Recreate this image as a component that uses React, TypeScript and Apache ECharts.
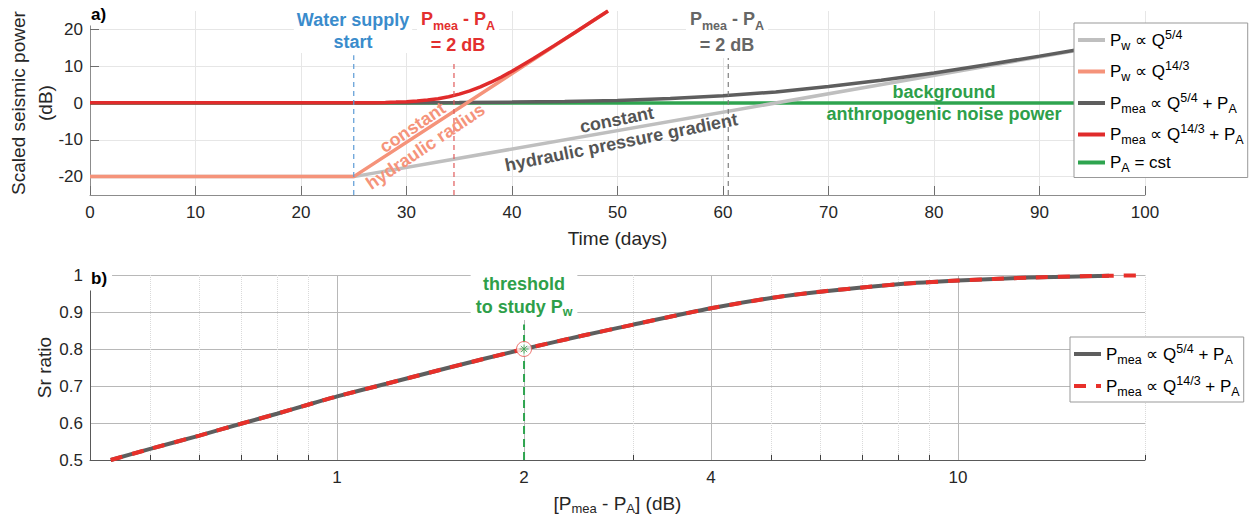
import React, { useEffect, useRef } from 'react';
import * as echarts from 'echarts';

const FONT = '"Liberation Sans", Arial, Helvetica, sans-serif';

// ---------- Panel a) data ----------
const yTicksA = [-20, -10, 0, 10, 20];
const pw54Days = [0, 25, 100];
const pw54Db = [-20, -20, 17.5];
const pw143Days = [0, 25, 49.1];
const pw143Db = [-20, -20, 25];
const pmea54Days = [0, 25, 30, 35, 40, 45, 50, 55, 60, 65, 70, 75, 80, 85, 90, 95, 100];
const pmea54Db = [0.04, 0.04, 0.08, 0.14, 0.24, 0.41, 0.71, 1.19, 1.94, 3.01, 4.46, 6.19, 8.14, 10.41, 12.74, 15.13, 17.58];
const pmea143Days = [0, 25, 26, 27, 28, 29, 30, 31, 32, 33, 34, 35, 36, 37, 38, 39, 40, 42, 44, 46, 48, 49.1];
const pmea143Db = [0.04, 0.04, 0.07, 0.1, 0.16, 0.24, 0.36, 0.54, 0.8, 1.18, 1.7, 2.4, 3.28, 4.38, 5.65, 7.08, 8.64, 12.01, 15.59, 19.25, 22.95, 25];
const paDays = [0, 100];
const paDb = [0, 0];
const markerDays = [25, 34.5, 60.5];
const markerTopsDb = [13, 11.2, 12.5];

// ---------- Panel b) data ----------
const dbDiff = [0.432, 0.5, 0.6, 0.7, 0.8, 0.9, 1, 1.2, 1.5, 2, 2.5, 3, 4, 5, 6, 8, 10, 13, 17.5];
const srRatio = [0.5, 0.53, 0.566, 0.598, 0.625, 0.65, 0.672, 0.706, 0.748, 0.8, 0.837, 0.866, 0.91, 0.938, 0.955, 0.975, 0.985, 0.993, 0.998];
const dbDiffRed = [...dbDiff, 20];
const srRatioRed = [...srRatio, 0.999];
const xTicksB = [1, 2, 4, 10];
const minorTicksB = [0.5, 0.6, 0.7, 0.8, 0.9, 3, 5, 6, 7, 8, 9, 20];
const xRangeB = [0.4, 20];
const yRangeB = [0.5, 1];
const thresholdDb = 2;
const thresholdSr = 0.8;
const thresholdLineTopSr = 0.866;

const lg = (v: number) => Math.log10(v);
const zip = (xs: number[], ys: number[]) => xs.map((x, i) => [x, ys[i]]);

const legendLabels: Record<string, string> = {
  Pw54: '{b|P}{s|w}{b| ∝ Q}{p|5/4}',
  Pw143: '{b|P}{s|w}{b| ∝ Q}{p|14/3}',
  Pmea54: '{b|P}{s|mea}{b| ∝ Q}{p|5/4}{b| + P}{s|A}',
  Pmea143: '{b|P}{s|mea}{b| ∝ Q}{p|14/3}{b| + P}{s|A}',
  PA: '{b|P}{s|A}{b| = cst}',
  Pmea54b: '{b|P}{s|mea}{b| ∝ Q}{p|5/4}{b| + P}{s|A}',
  Pmea143b: '{b|P}{s|mea}{b| ∝ Q}{p|14/3}{b| + P}{s|A}',
};

const legendRich = {
  b: { fontSize: 17, fontFamily: FONT, color: '#000', lineHeight: 24 },
  s: { fontSize: 12.5, fontFamily: FONT, color: '#000', lineHeight: 12, verticalAlign: 'bottom' },
  p: { fontSize: 12.5, fontFamily: FONT, color: '#000', lineHeight: 12, verticalAlign: 'top' },
};

const ANN = 18;
const annRich = (color: string) => ({
  b: { fill: color, fontSize: ANN, fontWeight: 'bold', fontFamily: FONT, lineHeight: 26 },
  s: { fill: color, fontSize: 12.5, fontWeight: 'bold', fontFamily: FONT, lineHeight: 12, verticalAlign: 'bottom' },
});

const lineSeries = (name: string, data: number[][], color: string, width: number, xi: number, extra: any = {}) => ({
  type: 'line',
  name,
  xAxisIndex: xi,
  yAxisIndex: xi,
  data,
  symbol: 'none',
  silent: true,
  itemStyle: { color },
  lineStyle: { color, width, ...(extra.lineStyle || {}) },
  emphasis: { disabled: true },
  ...(extra.rest || {}),
});

function buildOption() {
  const labelColor = '#262626';
  const markerColors = ['#5b9bd5', '#e05a5a', '#7f7f7f'];

  const vertMarkers = markerDays.map((d, i) =>
    lineSeries('mk' + i, [[d, -25], [d, markerTopsDb[i]]], markerColors[i], 1.2, 0, {
      lineStyle: { type: [5, 4] },
    })
  );

  const minorGrid = minorTicksB.map((v) => [
    { coord: [lg(v), yRangeB[0]], lineStyle: { color: '#dadada', type: 'dotted', width: 1 } },
    { coord: [lg(v), yRangeB[1]] },
  ]);
  const majorGrid = xTicksB.map((v) => [
    { coord: [lg(v), yRangeB[0]], lineStyle: { color: '#b8b8b8', type: 'solid', width: 1 } },
    { coord: [lg(v), yRangeB[1]] },
  ]);
  const minorTicks = minorTicksB.map((v) => [
    { coord: [lg(v), yRangeB[0]], lineStyle: { color: '#404040', type: 'solid', width: 1 } },
    { coord: [lg(v), yRangeB[0] + 0.014] },
  ]);

  const legendCommon = {
    orient: 'vertical',
    itemWidth: 27,
    itemHeight: 14,
    backgroundColor: '#ffffff',
    borderColor: '#999999',
    borderWidth: 1,
    borderRadius: 0,
    selectedMode: false,
    itemStyle: { opacity: 0 },
    lineStyle: { width: 4, opacity: 1 },
    formatter: (n: string) => legendLabels[n],
    textStyle: { rich: legendRich },
  };

  const boldText = (text: string, fill: string, lineHeight: number) => ({
    text,
    fill,
    fontSize: ANN,
    fontWeight: 'bold',
    fontFamily: FONT,
    lineHeight,
    align: 'center',
    verticalAlign: 'middle',
  });

  return {
    animation: false,
    textStyle: { fontFamily: FONT },
    grid: [
      { left: 90, top: 11, width: 1055, height: 184, outerBoundsMode: 'none', containLabel: false },
      { left: 90, top: 275, width: 1055, height: 185, outerBoundsMode: 'none', containLabel: false },
    ],
    xAxis: [
      {
        gridIndex: 0,
        type: 'value',
        min: 0,
        max: 100,
        interval: 10,
        name: 'Time (days)',
        nameLocation: 'middle',
        nameGap: 31,
        nameMoveOverlap: false,
        nameTextStyle: { fontSize: 19, color: labelColor, lineHeight: 24 },
        axisLine: { show: true, onZero: false, lineStyle: { color: '#8c8c8c', width: 1 } },
        axisTick: { show: true, inside: true, length: 9, lineStyle: { color: '#6e6e6e' } },
        axisLabel: { color: labelColor, fontSize: 17, margin: 9 },
        splitLine: { show: true, lineStyle: { color: '#e6e6e6', width: 1 } },
      },
      {
        gridIndex: 1,
        type: 'value',
        min: lg(xRangeB[0]),
        max: lg(xRangeB[1]),
        name: '{b|[P}{s|mea}{b| - P}{s|A}{b|] (dB)}',
        nameLocation: 'middle',
        nameGap: 31,
        nameMoveOverlap: false,
        nameTextStyle: {
          rich: {
            b: { fontSize: 19, color: labelColor, lineHeight: 24, fontFamily: FONT },
            s: { fontSize: 13, color: labelColor, lineHeight: 12, verticalAlign: 'bottom', fontFamily: FONT },
          },
        },
        axisLine: { show: true, onZero: false, lineStyle: { color: '#595959', width: 1 } },
        axisTick: { show: true, inside: true, length: 10, customValues: xTicksB.map(lg), lineStyle: { color: '#404040' } },
        axisLabel: {
          color: labelColor,
          fontSize: 17,
          margin: 9,
          customValues: xTicksB.map(lg),
          formatter: (v: number) => String(Math.round(Math.pow(10, v))),
        },
        splitLine: { show: false },
      },
    ],
    yAxis: [
      {
        gridIndex: 0,
        type: 'value',
        min: -25,
        max: 25,
        name: 'Scaled seismic power\n(dB)',
        nameLocation: 'middle',
        nameGap: 31,
        nameMoveOverlap: false,
        nameTextStyle: { fontSize: 19, color: labelColor, lineHeight: 27 },
        axisLine: { show: true, onZero: false, lineStyle: { color: '#8c8c8c', width: 1 } },
        axisTick: { show: true, inside: true, length: 9, customValues: yTicksA, lineStyle: { color: '#6e6e6e' } },
        axisLabel: { color: labelColor, fontSize: 17, margin: 7, customValues: yTicksA },
        splitLine: { show: true, lineStyle: { color: '#e6e6e6', width: 1 } },
      },
      {
        gridIndex: 1,
        type: 'value',
        min: yRangeB[0],
        max: yRangeB[1],
        interval: 0.1,
        name: 'Sr ratio',
        nameLocation: 'middle',
        nameGap: 32,
        nameMoveOverlap: false,
        nameTextStyle: { fontSize: 19, color: labelColor, lineHeight: 27 },
        axisLine: { show: true, onZero: false, lineStyle: { color: '#595959', width: 1 } },
        axisTick: { show: false },
        axisLabel: {
          color: labelColor,
          fontSize: 17,
          margin: 7,
          formatter: (v: number) => (Math.abs(v - 1) < 1e-9 ? '1' : v.toFixed(1)),
        },
        splitLine: { show: true, lineStyle: { color: '#b8b8b8', width: 1 } },
      },
    ],
    legend: [
      {
        ...legendCommon,
        data: ['Pw54', 'Pw143', 'Pmea54', 'Pmea143', 'PA'],
        left: 1074,
        top: 23,
        itemGap: 7.5,
        padding: [5, 4, 3, 2],
      },
      {
        ...legendCommon,
        data: ['Pmea54b', 'Pmea143b'],
        left: 1070,
        top: 337,
        itemGap: 8,
        padding: [5, 4, 4, 2],
      },
    ],
    series: [
      // panel a
      lineSeries('PA', zip(paDays, paDb), '#2ea44f', 3.5, 0),
      lineSeries('Pw54', zip(pw54Days, pw54Db), '#bfbfbf', 3.5, 0),
      lineSeries('Pmea54', zip(pmea54Days, pmea54Db), '#5e5e5e', 3.5, 0),
      lineSeries('Pw143', zip(pw143Days, pw143Db), '#f5937a', 3.5, 0),
      lineSeries('Pmea143', zip(pmea143Days, pmea143Db), '#e02b2b', 3.5, 0),
      ...vertMarkers,
      // panel b
      lineSeries('gridHelper', [[lg(xRangeB[0]), yRangeB[0]]], 'rgba(0,0,0,0)', 0, 1, {
        rest: {
          z: 1,
          markLine: {
            z: 1,
            silent: true,
            symbol: ['none', 'none'],
            label: { show: false },
            emphasis: { disabled: true },
            animation: false,
            data: [...minorGrid, ...majorGrid, ...minorTicks],
          },
        },
      }),
      lineSeries('thr', [[lg(thresholdDb), yRangeB[0]], [lg(thresholdDb), thresholdLineTopSr]], '#2ea44f', 2, 1, {
        lineStyle: { type: [8, 5] },
      }),
      lineSeries('Pmea54b', zip(dbDiff.map(lg), srRatio), '#5e5e5e', 4, 1, {
        rest: { smooth: 0.2 },
      }),
      lineSeries('Pmea143b', zip(dbDiffRed.map(lg), srRatioRed), '#e8302a', 4, 1, {
        lineStyle: { type: [12, 10] },
        rest: { smooth: 0.2 },
      }),
      {
        type: 'scatter',
        name: 'thrPoint',
        xAxisIndex: 1,
        yAxisIndex: 1,
        data: [[lg(thresholdDb), thresholdSr]],
        symbol: 'circle',
        symbolSize: 15,
        silent: true,
        z: 3,
        itemStyle: { color: '#ffffff', borderColor: '#e8504a', borderWidth: 1 },
      },
      {
        type: 'scatter',
        name: 'thrStar',
        xAxisIndex: 1,
        yAxisIndex: 1,
        data: [[lg(thresholdDb), thresholdSr]],
        symbol: 'path://M5 0L5 10M0 5L10 5M1.5 1.5L8.5 8.5M1.5 8.5L8.5 1.5',
        symbolSize: 9,
        silent: true,
        z: 4,
        itemStyle: { color: 'rgba(0,0,0,0)', borderColor: '#2ea44f', borderWidth: 1 },
      },
    ],
    graphic: [
      {
        type: 'text',
        x: 90,
        y: 14,
        z: 100,
        style: {
          text: 'a)',
          fill: '#000',
          fontSize: 17,
          fontWeight: 'bold',
          fontFamily: FONT,
          align: 'left',
          verticalAlign: 'middle',
          backgroundColor: '#ffffff',
          padding: [3, 4, 3, 1],
        },
      },
      {
        type: 'text',
        x: 90,
        y: 278,
        z: 100,
        style: {
          text: 'b)',
          fill: '#000',
          fontSize: 17,
          fontWeight: 'bold',
          fontFamily: FONT,
          align: 'left',
          verticalAlign: 'middle',
          backgroundColor: '#ffffff',
          padding: [4, 5, 4, 1],
        },
      },
      {
        type: 'text',
        x: 353,
        y: 31,
        z: 100,
        style: {
          ...boldText('Water supply\nstart', '#3a8ccc', 22),
          backgroundColor: '#ffffff',
          padding: [0, 3],
        },
      },
      {
        type: 'text',
        x: 458,
        y: 32,
        z: 100,
        style: {
          text: '{b|P}{s|mea}{b| - P}{s|A}\n{b|= 2 dB}',
          rich: annRich('#e3302f'),
          fill: '#e3302f',
          align: 'center',
          verticalAlign: 'middle',
          backgroundColor: '#ffffff',
          padding: [0, 4],
        },
      },
      {
        type: 'text',
        x: 727,
        y: 32,
        z: 100,
        style: {
          text: '{b|P}{s|mea}{b| - P}{s|A}\n{b|= 2 dB}',
          rich: annRich('#666666'),
          fill: '#666666',
          align: 'center',
          verticalAlign: 'middle',
          backgroundColor: '#ffffff',
          padding: [0, 4],
        },
      },
      {
        type: 'text',
        x: 419,
        y: 137,
        rotation: 0.593,
        z: 100,
        style: boldText('constant\nhydraulic radius', '#f5937a', 23),
      },
      {
        type: 'text',
        x: 619,
        y: 131,
        rotation: 0.198,
        z: 100,
        style: boldText('constant\nhydraulic pressure gradient', '#555555', 23),
      },
      {
        type: 'text',
        x: 944,
        y: 103,
        z: 100,
        style: boldText('background\nanthropogenic noise power', '#2e9f4a', 22),
      },
      {
        type: 'text',
        x: 524,
        y: 295,
        z: 100,
        style: {
          text: '{b|threshold}\n{b|to study P}{s|w}',
          rich: {
            b: { fill: '#2e9f4a', fontSize: ANN, fontWeight: 'bold', fontFamily: FONT, lineHeight: 23 },
            s: { fill: '#2e9f4a', fontSize: 12.5, fontWeight: 'bold', fontFamily: FONT, lineHeight: 12, verticalAlign: 'bottom' },
          },
          fill: '#2e9f4a',
          align: 'center',
          verticalAlign: 'middle',
          backgroundColor: '#ffffff',
          padding: [2, 5, 2, 5],
        },
      },
    ],
  };
}

export default function App() {
  const ref = useRef<HTMLDivElement>(null);
  useEffect(() => {
    document.body.style.margin = '0';
    const chart = echarts.init(ref.current as HTMLDivElement, null, { renderer: 'svg' });
    chart.setOption(buildOption() as any);
    return () => chart.dispose();
  }, []);
  return <div ref={ref} style={{ width: 1253, height: 521 }} />;
}
